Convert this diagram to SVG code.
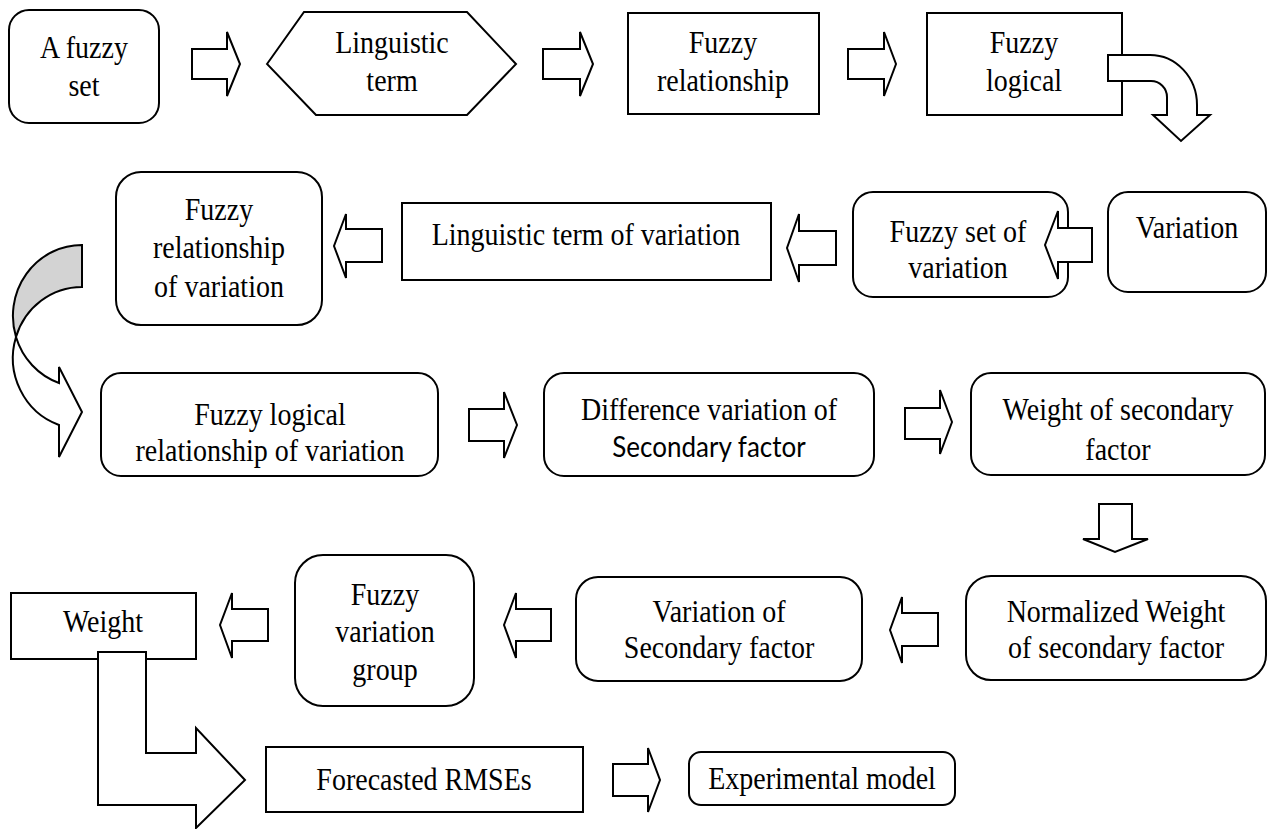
<svg xmlns="http://www.w3.org/2000/svg" width="1277" height="829" viewBox="0 0 1277 829">
<style>
.b{fill:#fff;stroke:#000;stroke-width:2}
.a{fill:#fff;stroke:#000;stroke-width:2;stroke-linejoin:miter}
.g{fill:#d3d3d3;stroke:#000;stroke-width:2}
.t{font-family:"Liberation Serif","Times New Roman",Times,serif;font-size:28px;text-anchor:middle;fill:#000}
.s{font-family:Lato,"Open Sans",sans-serif;font-size:26px;text-anchor:middle;fill:#000}
</style>
<rect width="1277" height="829" fill="#fff"/>
<g id="n1"><rect class="b" x="9" y="10" width="150" height="113" rx="20"/><text class="t" transform="translate(84,58) scale(1,1.1)">A fuzzy</text><text class="t" transform="translate(84,96) scale(1,1.1)">set</text></g>
<g id="n2"><polygon class="b" points="267,64 304,12 467,12 516,64 467,115 316,115"/><text class="t" transform="translate(392,53) scale(1,1.1)">Linguistic</text><text class="t" transform="translate(392,91) scale(1,1.1)">term</text></g>
<g id="n3"><rect class="b" x="628" y="13" width="191" height="101"/><text class="t" transform="translate(723,53) scale(1,1.1)">Fuzzy</text><text class="t" transform="translate(723,91) scale(1,1.1)">relationship</text></g>
<g id="n4"><rect class="b" x="927" y="13" width="195" height="102"/><text class="t" transform="translate(1024,53) scale(1,1.1)">Fuzzy</text><text class="t" transform="translate(1024,91) scale(1,1.1)">logical</text></g>
<g id="n5"><rect class="b" x="1108" y="192" width="158" height="100" rx="20"/><text class="t" transform="translate(1187,238) scale(1,1.1)">Variation</text></g>
<g id="n6"><rect class="b" x="853" y="192" width="215" height="105" rx="20"/><text class="t" transform="translate(958,242) scale(1,1.1)">Fuzzy set of</text><text class="t" transform="translate(958,278) scale(1,1.1)">variation</text></g>
<g id="n7"><rect class="b" x="402" y="203" width="369" height="77"/><text class="t" transform="translate(586,245) scale(1,1.1)">Linguistic term of variation</text></g>
<g id="n8"><rect class="b" x="116" y="172" width="206" height="153" rx="25"/><text class="t" transform="translate(219,220) scale(1,1.1)">Fuzzy</text><text class="t" transform="translate(219,258) scale(1,1.1)">relationship</text><text class="t" transform="translate(219,297) scale(1,1.1)">of variation</text></g>
<g id="n9"><rect class="b" x="101" y="373" width="337" height="103" rx="20"/><text class="t" transform="translate(270,425) scale(1,1.1)">Fuzzy logical</text><text class="t" transform="translate(270,461) scale(1,1.1)">relationship of variation</text></g>
<g id="n10"><rect class="b" x="544" y="373" width="330" height="103" rx="20"/><text class="t" transform="translate(709,420) scale(1,1.1)">Difference variation of</text><text class="s" transform="translate(709,457) scale(1,1.1)">Secondary factor</text></g>
<g id="n11"><rect class="b" x="971" y="373" width="294" height="102" rx="20"/><text class="t" transform="translate(1118,420) scale(1,1.1)">Weight of secondary</text><text class="t" transform="translate(1118,460) scale(1,1.1)">factor</text></g>
<g id="n12"><rect class="b" x="966" y="576" width="300" height="104" rx="25"/><text class="t" transform="translate(1116,622) scale(1,1.1)">Normalized Weight</text><text class="t" transform="translate(1116,658) scale(1,1.1)">of secondary factor</text></g>
<g id="n13"><rect class="b" x="576" y="577" width="286" height="104" rx="22"/><text class="t" transform="translate(719,622) scale(1,1.1)">Variation of</text><text class="t" transform="translate(719,658) scale(1,1.1)">Secondary factor</text></g>
<g id="n14"><rect class="b" x="295" y="555" width="179" height="151" rx="28"/><text class="t" transform="translate(385,605) scale(1,1.1)">Fuzzy</text><text class="t" transform="translate(385,642) scale(1,1.1)">variation</text><text class="t" transform="translate(385,680) scale(1,1.1)">group</text></g>
<g id="n15"><rect class="b" x="11" y="593" width="185" height="66"/><text class="t" transform="translate(103,632) scale(1,1.1)">Weight</text></g>
<g id="n16"><rect class="b" x="266" y="747" width="317" height="65"/><text class="t" transform="translate(424,790) scale(1,1.1)">Forecasted RMSEs</text></g>
<g id="n17"><rect class="b" x="689" y="752" width="266" height="53" rx="12"/><text class="t" transform="translate(822,789) scale(1,1.1)">Experimental model</text></g>
<g id="connectors">
<polygon class="a" points="192,49 227,49 227,32 240,64 227,96 227,79 192,79"/>
<polygon class="a" points="543,49 580,49 580,32 593,64 580,96 580,79 543,79"/>
<polygon class="a" points="848,49 884,49 884,32 896,64 884,96 884,79 848,79"/>
<path class="a" d="M1108,55 L1150,55 A47,50 0 0 1 1197,105 L1197,115 L1210,115 L1181,141 L1153,115 L1167,115 L1167,97 A16,16 0 0 0 1151,81 L1108,81 Z"/>
<polygon class="a" points="1092,228 1058,228 1058,211 1045,245 1058,279 1058,262 1092,262"/>
<polygon class="a" points="836,231 799,231 799,214 787,248 799,282 799,265 836,265"/>
<polygon class="a" points="382,229 346,229 346,214 334,246 346,278 346,262 382,262"/>
<path class="g" d="M82,245 A69,71 0 0 0 16,337 A69,71 0 0 1 82,287 Z"/>
<path class="a" d="M16,337 A69,71 0 0 0 59,383 L59,367 L82,412 L59,457 L59,425 A69,71 0 0 1 16,337 Z"/>
<polygon class="a" points="469,409 504,409 504,392 517,425 504,458 504,441 469,441"/>
<polygon class="a" points="905,408 940,408 940,390 952,422 940,454 940,439 905,439"/>
<polygon class="a" points="1099,504 1132,504 1132,539 1148,539 1115,552 1083,539 1099,539"/>
<polygon class="a" points="938,613 902,613 902,597 890,630 902,663 902,646 938,646"/>
<polygon class="a" points="551,609 516,609 516,593 504,625 516,658 516,641 551,641"/>
<polygon class="a" points="268,609 232,609 232,593 220,625 232,658 232,641 268,641"/>
<path class="a" d="M98,652 L146,652 L146,753 L196,753 L196,728 L245,780 L196,828 L196,805 L98,805 Z"/>
<polygon class="a" points="613,764 648,764 648,748 660,780 648,812 648,796 613,796"/>
</g>
</svg>
